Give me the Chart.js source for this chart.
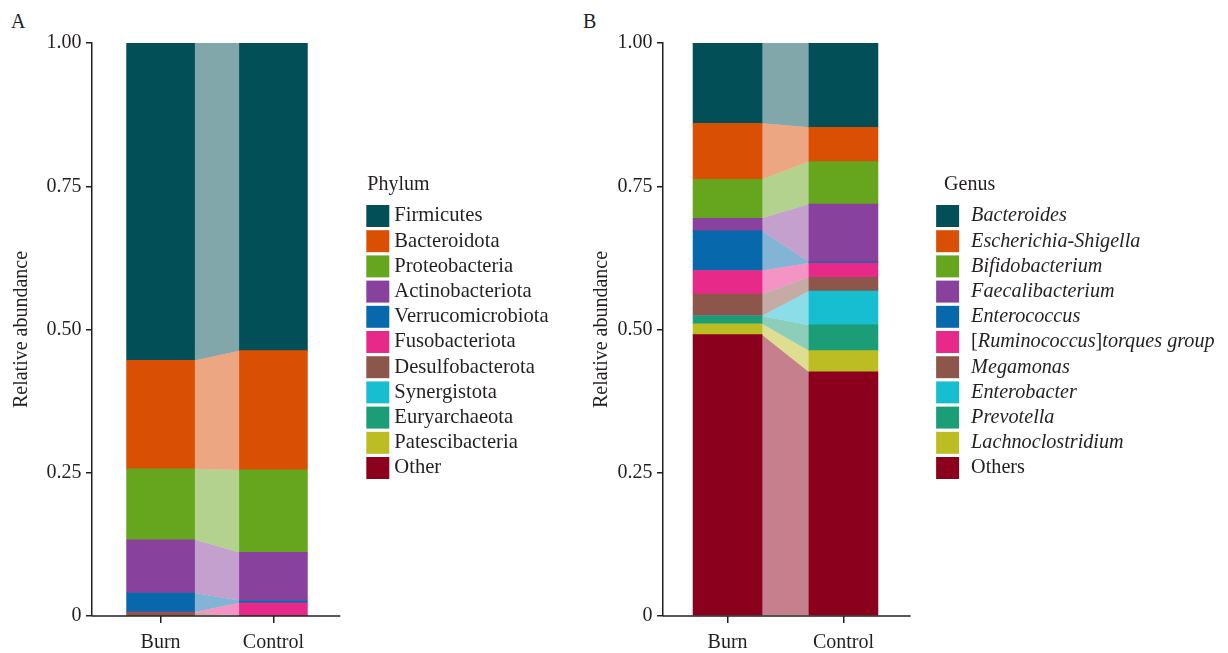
<!DOCTYPE html>
<html>
<head>
<meta charset="utf-8">
<title>Relative abundance</title>
<script src="https://cdn.jsdelivr.net/npm/chart.js@4.4.1/dist/chart.umd.min.js"></script>
<style>
  body { margin: 0; background: #fff; font-family: "Liberation Serif", serif; color: #231f20; }
  #page { position: relative; width: 1228px; height: 653px; overflow: hidden; }
  canvas { position: absolute; top: 0; }
  #chartA { left: 0; }
  #chartB { left: 580px; }
  .tag { position: absolute; top: 11px; font-size: 20px; line-height: 20px; }
</style>
</head>
<body>
<div id="page">
  <div class="tag" style="left:11px">A</div>
  <div class="tag" style="left:583px">B</div>
  <canvas id="chartA" width="564" height="653"></canvas>
  <canvas id="chartB" width="645" height="653"></canvas>
</div>
<script>
const groups = ["Burn", "Control"];
const yTicks = [0, 0.25, 0.5, 0.75, 1];
const yTickLabels = ["0", "0.25", "0.50", "0.75", "1.00"];

// panel A, top of the stack first
const phyla = ["Firmicutes", "Bacteroidota", "Proteobacteria", "Actinobacteriota", "Verrucomicrobiota",
  "Fusobacteriota", "Desulfobacterota", "Synergistota", "Euryarchaeota", "Patescibacteria", "Other"];
const phylumBurn = [0.554, 0.189, 0.124, 0.093, 0.033, 0.001, 0.006, 0, 0, 0, 0];
const phylumControl = [0.537, 0.208, 0.144, 0.084, 0.004, 0.022, 0.001, 0, 0, 0, 0];

// panel B
const genera = ["Bacteroides", "Escherichia-Shigella", "Bifidobacterium", "Faecalibacterium", "Enterococcus",
  "[Ruminococcus]torques group", "Megamonas", "Enterobacter", "Prevotella", "Lachnoclostridium", "Others"];
const genusBurn = [0.140, 0.098, 0.068, 0.022, 0.069, 0.041, 0.038, 0.001, 0.013, 0.019, 0.491];
const genusControl = [0.147, 0.060, 0.074, 0.101, 0.002, 0.025, 0.024, 0.059, 0.045, 0.037, 0.426];

const colors = ["#034f57", "#d95005", "#66a61e", "#88419d", "#0868ac", "#e7298a",
  "#8c564b", "#17becf", "#1b9e77", "#bcbd22", "#8b001c"];

const FONT = "Liberation Serif";
const INK = "#231f20";

// translucent ribbons joining each layer of the two bars
const ribbons = {
  id: "ribbons",
  beforeDatasetsDraw(chart) {
    const ctx = chart.ctx;
    chart.data.datasets.forEach((ds, i) => {
      const [a, b] = chart.getDatasetMeta(i).data;
      const x0 = a.x + a.width / 2, x1 = b.x - b.width / 2;
      ctx.save();
      ctx.globalAlpha = 0.5;
      ctx.fillStyle = ds.backgroundColor;
      ctx.beginPath();
      ctx.moveTo(x0, a.y);
      ctx.lineTo(x1, b.y);
      ctx.lineTo(x1, b.base);
      ctx.lineTo(x0, a.base);
      ctx.closePath();
      ctx.fill();
      ctx.restore();
    });
  }
};

// the x axis line stops short of the legend
const baseLine = {
  id: "baseLine",
  afterDatasetsDraw(chart, args, opts) {
    const { ctx, chartArea, scales } = chart;
    const y = scales.y.getPixelForValue(0);
    ctx.save();
    ctx.strokeStyle = INK;
    ctx.lineWidth = 1.5;
    ctx.beginPath();
    ctx.moveTo(chartArea.left, y);
    ctx.lineTo(scales.x.getPixelForValue(opts.end), y);
    ctx.stroke();
    ctx.restore();
  }
};

function pieces(text, italic) {
  if (!italic || text === "Others") return [[text, ""]];
  return text.split(/([\[\]])/).filter(s => s).map(s => [s, /[\[\]]/.test(s) ? "" : "italic "]);
}

// legend title and labels redrawn so genus names can be set in italics
const legendText = {
  id: "legendText",
  afterDraw(chart, args, opts) {
    const lg = chart.legend, ctx = chart.ctx;
    const size = opts.size;
    ctx.save();
    ctx.fillStyle = INK;
    ctx.textBaseline = "middle";
    const first = lg.legendHitBoxes[0];
    ctx.font = "20px '" + FONT + "'";
    ctx.fillText(opts.title, first.left + opts.titleDx, first.top - 20);
    lg.legendItems.forEach((item, i) => {
      const hb = lg.legendHitBoxes[i];
      let x = hb.left + opts.offset;
      const y = hb.top + hb.height / 2;
      pieces(item.text, opts.italic).forEach(([s, style]) => {
        ctx.font = style + size + "px '" + FONT + "'";
        ctx.fillText(s, x, y);
        x += ctx.measureText(s).width;
      });
    });
    ctx.restore();
  }
};

function panel(id, names, burn, control, p) {
  const datasets = names.map((name, i) => ({
    label: name,
    data: [{ x: 1, y: burn[i] }, { x: 2, y: control[i] }],
    backgroundColor: colors[i],
    borderWidth: 0,
    barThickness: p.bar
  })).reverse();

  return new Chart(document.getElementById(id), {
    type: "bar",
    data: { datasets },
    plugins: [ribbons, baseLine, legendText],
    options: {
      responsive: false,
      animation: false,
      events: [],
      layout: { padding: { top: 43, right: 0, bottom: 0, left: 0 } },
      scales: {
        x: {
          type: "linear",
          stacked: true,
          offset: false,
          min: p.xMin,
          max: p.xMax,
          afterBuildTicks: s => { s.ticks = groups.map((g, i) => ({ value: i + 1 })); },
          afterFit: s => { s.height = 37; },
          ticks: {
            callback: v => groups[v - 1],
            color: INK,
            font: { family: FONT, size: 20 },
            padding: 8,
            maxRotation: 0,
            autoSkip: false
          },
          grid: { offset: false, drawOnChartArea: false, drawTicks: true, tickLength: 7, color: INK, lineWidth: 1.5 },
          border: { display: false }
        },
        y: {
          stacked: true,
          min: 0,
          max: 1,
          afterBuildTicks: s => { s.ticks = yTicks.map(v => ({ value: v })); },
          afterFit: s => { s.width = p.yWidth; },
          ticks: {
            callback: (v, i) => yTickLabels[i],
            color: INK,
            font: { family: FONT, size: 20 },
            padding: 4.5
          },
          grid: { drawOnChartArea: false, tickLength: 6, color: INK, lineWidth: 1.5 },
          border: { color: INK, width: 1.5 },
          title: {
            display: true,
            text: "Relative abundance",
            color: INK,
            font: { family: FONT, size: 20 },
            padding: { top: 10, bottom: 0 }
          }
        }
      },
      plugins: {
        legend: {
          position: "right",
          align: "start",
          reverse: true,
          maxWidth: 400,
          title: {
            display: true,
            text: p.title,
            position: "start",
            color: "rgba(0,0,0,0)",
            font: { family: FONT, size: 20 },
            padding: { top: 132, bottom: 2.8 }
          },
          labels: {
            boxWidth: 23,
            boxHeight: 22,
            padding: 3.2,
            color: "rgba(0,0,0,0)",
            font: { family: FONT, size: p.size, style: p.italic ? "italic" : "normal" }
          }
        },
        tooltip: { enabled: false },
        baseLine: { end: p.axisEnd },
        legendText: { title: p.title, titleDx: p.titleDx, offset: p.textOffset, italic: p.italic, size: p.size }
      }
    }
  });
}

panel("chartA", phyla, phylumBurn, phylumControl,
  { title: "Phylum", italic: false, size: 20.6, bar: 68, yWidth: 92, xMin: 0.392, xMax: 2.795, axisEnd: 2.593,
    textOffset: 28, titleDx: 1 });
panel("chartB", genera, genusBurn, genusControl,
  { title: "Genus", italic: true, size: 20.2, bar: 69, yWidth: 83, xMin: 0.443, xMax: 2.772, axisEnd: 2.58,
    textOffset: 35, titleDx: 8 });
</script>
</body>
</html>
